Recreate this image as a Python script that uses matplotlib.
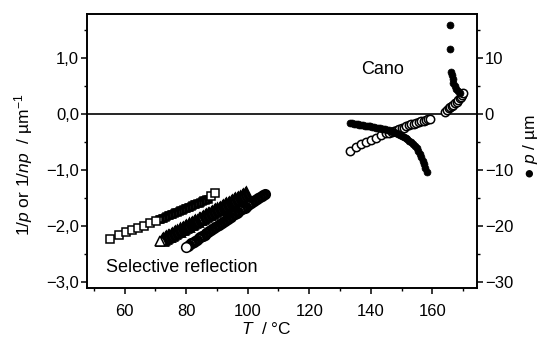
import matplotlib
matplotlib.use("Agg")
import matplotlib.pyplot as plt
from matplotlib.ticker import MultipleLocator, FuncFormatter

plt.rcParams["font.family"] = ["Liberation Sans", "DejaVu Sans"]
plt.rcParams["mathtext.fontset"] = "custom"
plt.rcParams["mathtext.rm"] = "Liberation Sans"
plt.rcParams["mathtext.it"] = "Liberation Sans:italic"
plt.rcParams["axes.unicode_minus"] = True

# Selective reflection, 1/p (squares)
sq_T = [55.1, 58.1, 60.4, 62.3, 64.3, 66.3, 68.3, 70.2, 71.0, 71.5, 72.0, 72.5,
        73.0, 73.5, 74.0, 74.5, 75.0, 75.5, 76.0, 76.5, 77.0, 77.5, 78.0, 78.5,
        79.0, 79.5, 80.0, 80.5, 81.0, 81.5, 82.0, 82.5, 83.0, 83.5, 84.0, 84.5,
        85.0, 85.5, 86.0, 86.5, 87.0, 88.2, 89.5]
sq_inv = [-2.23, -2.16, -2.11, -2.07, -2.03, -1.99, -1.94, -1.90, -1.88, -1.87,
          -1.86, -1.85, -1.84, -1.82, -1.81, -1.80, -1.79, -1.78, -1.77, -1.75,
          -1.74, -1.73, -1.72, -1.71, -1.70, -1.68, -1.67, -1.66, -1.65, -1.64,
          -1.63, -1.61, -1.60, -1.59, -1.58, -1.57, -1.56, -1.54, -1.53, -1.52,
          -1.51, -1.46, -1.40]

# Selective reflection, 1/np (triangles)
tri_T = [71.5, 72.0, 72.5, 73.0, 73.5, 74.0, 74.5, 75.0, 75.5, 76.0, 76.5, 77.0,
         77.5, 78.0, 78.5, 79.0, 79.5, 80.0, 80.5, 81.0, 81.5, 82.0, 82.5, 83.0,
         83.5, 84.0, 84.5, 85.0, 85.5, 86.0, 86.5, 87.0, 87.5, 88.0, 88.5, 89.0,
         89.5, 90.0, 90.5, 91.0, 91.5, 92.0, 92.5, 93.0, 93.5, 94.0, 94.5, 95.0,
         95.5, 96.0, 96.5, 97.0, 97.5, 98.0, 98.5, 99.0, 99.6]
tri_inv = [-2.26, -2.24, -2.23, -2.21, -2.20, -2.18, -2.17, -2.15, -2.14, -2.12,
           -2.11, -2.09, -2.08, -2.06, -2.05, -2.03, -2.02, -2.00, -1.99, -1.97,
           -1.96, -1.94, -1.93, -1.91, -1.90, -1.88, -1.87, -1.85, -1.84, -1.82,
           -1.81, -1.79, -1.78, -1.76, -1.75, -1.73, -1.72, -1.70, -1.69, -1.67,
           -1.66, -1.64, -1.63, -1.61, -1.60, -1.58, -1.57, -1.55, -1.54, -1.52,
           -1.51, -1.49, -1.48, -1.46, -1.45, -1.43, -1.40]

# Selective reflection, 1/p (open circles)
circ_T = [80.0, 80.5, 81.0, 81.5, 82.0, 82.5, 83.0, 83.5, 84.0, 84.5, 85.0, 85.5,
          86.0, 86.5, 87.0, 87.5, 88.0, 88.5, 89.0, 89.5, 90.0, 90.5, 91.0, 91.5,
          92.0, 92.5, 93.0, 93.5, 94.0, 94.5, 95.0, 95.5, 96.0, 96.5, 97.0, 97.5,
          98.0, 98.5, 99.0, 99.5, 100.0, 100.5, 101.0, 101.5, 102.0, 102.5, 103.0,
          103.5, 104.0, 104.5, 105.0, 105.6]
circ_inv = [-2.37, -2.35, -2.33, -2.31, -2.30, -2.28, -2.26, -2.24, -2.22, -2.20,
            -2.18, -2.17, -2.15, -2.13, -2.11, -2.09, -2.07, -2.05, -2.04, -2.02,
            -2.00, -1.98, -1.96, -1.94, -1.92, -1.91, -1.89, -1.87, -1.85, -1.83,
            -1.81, -1.79, -1.78, -1.76, -1.74, -1.72, -1.70, -1.68, -1.67, -1.65,
            -1.63, -1.61, -1.59, -1.57, -1.55, -1.54, -1.52, -1.50, -1.48, -1.46,
            -1.44, -1.42]

# Cano wedge, 1/p (open circles)
cano_T = [133.3, 135.2, 136.9, 138.4, 140.2, 141.7, 143.4, 145.0, 146.0, 146.8,
          147.6, 148.4, 149.2, 150.0, 150.8, 151.6, 152.4, 153.2, 154.0, 154.8,
          155.6, 156.4, 157.2, 158.0, 158.7, 159.2,
          164.2, 164.8, 165.3, 165.9, 166.4, 166.9, 167.5, 168.0, 168.5, 168.9,
          169.3, 169.7, 170.0]
cano_inv = [-0.655, -0.58, -0.535, -0.49, -0.455, -0.42, -0.38, -0.345, -0.33,
            -0.315, -0.30, -0.285, -0.27, -0.255, -0.24, -0.22, -0.20, -0.185,
            -0.17, -0.155, -0.14, -0.13, -0.115, -0.10, -0.09, -0.08,
            0.04, 0.08, 0.10, 0.13, 0.15, 0.17, 0.20, 0.22, 0.25, 0.28, 0.31,
            0.34, 0.37]

# Cano wedge, pitch p in um (filled circles, right axis)
pitch_T = [133.3, 133.9, 134.5, 135.1, 135.7, 136.3, 136.9, 137.5, 138.1, 138.7,
           139.3, 139.9, 140.5, 141.1, 141.7, 142.3, 142.9, 143.5, 144.1, 144.7,
           145.3, 145.9, 146.5, 147.1, 147.7, 148.3, 148.9, 149.5, 150.1, 150.7,
           151.3, 151.9, 152.5, 153.1, 153.7, 154.3, 154.9, 155.5, 156.0, 156.5,
           157.0, 157.4, 157.8, 158.2,
           165.7, 165.8, 166.2, 166.4, 166.6, 166.9, 167.3, 167.8, 168.4, 169.0]
pitch = [-1.55, -1.62, -1.72, -1.79, -1.85, -1.90, -1.95, -2.00, -2.04, -2.09,
         -2.14, -2.20, -2.27, -2.33, -2.40, -2.47, -2.54, -2.61, -2.67, -2.74,
         -2.80, -2.88, -3.00, -3.12, -3.25, -3.40, -3.56, -3.74, -3.93, -4.11,
         -4.30, -4.50, -4.72, -4.98, -5.28, -5.63, -6.05, -6.55, -7.10, -7.70,
         -8.35, -8.95, -9.60, -10.3,
         15.9, 11.7, 7.55, 6.9, 6.2, 5.6, 5.0, 4.5, 4.1, 3.8]

left_ticks = [-3.0, -2.0, -1.0, 0.0, 1.0]
right_ticks = [-30, -20, -10, 0, 10]
x_ticks = [60, 80, 100, 120, 140, 160]


def comma(v, pos):
    s = f"{v:.1f}".replace(".", ",")
    return s.replace("-", "\u2212")


def open_marks(ax, x, y, marker, ms, mew):
    ax.plot(x, y, ls="none", marker=marker, ms=ms, mfc="white",
            mec="black", mew=mew, zorder=3)


fig = plt.figure(figsize=(5.41, 3.38), dpi=100)
ax = fig.add_axes([0.16, 0.149, 0.722, 0.811])
ax2 = ax.twinx()

ax.axhline(0, color="black", lw=1.2, zorder=1)

# squares: sparse start, packed middle, two loose points at the end
open_marks(ax, sq_T[8:41][::-1], sq_inv[8:41][::-1], "s", 4.8, 1.8)
open_marks(ax, sq_T[:8], sq_inv[:8], "s", 5.4, 1.1)
open_marks(ax, sq_T[41:], sq_inv[41:], "s", 5.4, 1.1)

# triangles and circles: packed runs, the coolest point left open on top
open_marks(ax, tri_T[1:][::-1], tri_inv[1:][::-1], "^", 6.6, 2.0)
open_marks(ax, tri_T[:1], tri_inv[:1], "^", 7.8, 1.1)
open_marks(ax, circ_T[1:][::-1], circ_inv[1:][::-1], "o", 6.0, 2.0)
open_marks(ax, circ_T[:1], circ_inv[:1], "o", 7.0, 1.1)

open_marks(ax, cano_T, cano_inv, "o", 6.0, 1.1)
ax2.plot(pitch_T, pitch, ls="none", marker="o", ms=5.0,
         mfc="black", mec="black", mew=0.5, zorder=4)

ax.set_xlim(47.6, 174.6)
ax.set_ylim(-3.098, 1.795)
ax2.set_ylim(-30.98, 17.95)

ax.set_xticks(x_ticks)
ax.xaxis.set_minor_locator(MultipleLocator(10))
ax.set_yticks(left_ticks)
ax.yaxis.set_minor_locator(MultipleLocator(0.5))
ax.yaxis.set_major_formatter(FuncFormatter(comma))
ax2.set_yticks(right_ticks)
ax2.yaxis.set_minor_locator(MultipleLocator(5))
ax2.set_yticklabels([str(t).replace("-", "\u2212") for t in right_ticks])

for a in (ax, ax2):
    for s in a.spines.values():
        s.set_linewidth(1.2)
ax.tick_params(axis="both", which="major", direction="out", length=4.5,
               width=1.1, labelsize=12)
ax.tick_params(axis="both", which="minor", direction="out", length=2.5,
               width=1.0)
ax.tick_params(axis="x", which="major", pad=7)
ax.tick_params(axis="y", which="major", pad=1)
ax2.tick_params(axis="y", which="major", direction="out", length=4.5,
                width=1.1, labelsize=12, pad=1)
ax2.tick_params(axis="y", which="minor", direction="out", length=2.5, width=1.0)

ax.set_xlabel("$T$  / °C", fontsize=12.5)
ax.xaxis.set_label_coords(0.46, -0.122)
ax.set_ylabel("1/$p$ or 1/$np$  / µm$^{-1}$", fontsize=12.5)
ax.yaxis.set_label_coords(-0.131, 0.447)
ax2.set_ylabel("\u25cf $p$ / µm", fontsize=12.5)
ax2.yaxis.set_label_coords(1.112, 0.516)

ax.text(143.9, 0.80, "Cano", fontsize=13, ha="center", va="center")
ax.text(53.8, -2.73, "Selective reflection", fontsize=13, ha="left",
        va="center")

fig.savefig("out.png", dpi=100)
